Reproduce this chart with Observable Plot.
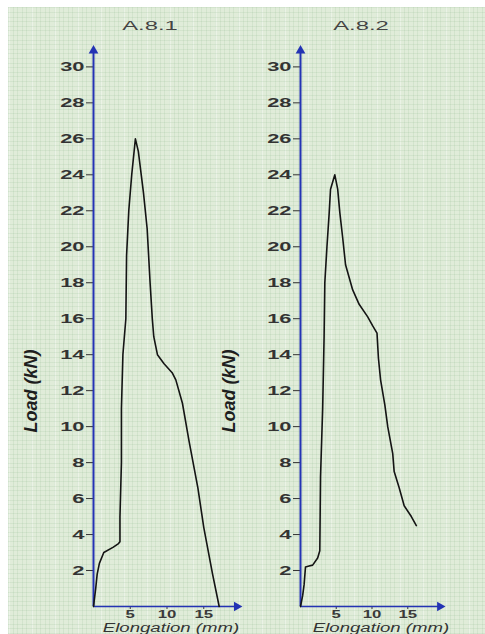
<!DOCTYPE html>
<html>
<head>
<meta charset="utf-8">
<script src="https://cdn.jsdelivr.net/npm/d3@7"></script>
<script src="https://cdn.jsdelivr.net/npm/@observablehq/plot@0.6"></script>
<style>
  html, body { margin: 0; padding: 0; background: #ffffff; }
  #chart { position: relative; width: 485px; height: 634px; overflow: hidden; }
  #paper {
    position: absolute; left: 8px; top: 7px; right: 0; bottom: 0;
    background-color: #e0ecd9;
    background-image:
      repeating-linear-gradient(0deg, rgba(120,170,120,0.13) 0 1px, transparent 1px 4.6px),
      repeating-linear-gradient(90deg, rgba(120,170,120,0.13) 0 1px, transparent 1px 4.6px),
      repeating-linear-gradient(90deg, rgba(255,255,255,0.35) 0 2px, transparent 2px 23px);
  }
  #chart svg { position: absolute; top: 0; }
</style>
</head>
<body>
<div id="chart"><div id="paper"></div></div>
<script>
// Load–elongation records for two specimens
const titles = ["A.8.1", "A.8.2"];

const elongA81 = [0, 0.3, 0.5, 0.8, 1.4, 2.7, 3.4, 3.6, 3.6, 3.8, 3.8, 4.0, 4.4, 4.5, 4.8, 5.2, 5.7,
  6.1, 6.8, 7.3, 7.7, 8.0, 8.2, 8.7, 9.6, 10.7, 11.2, 12.1, 13.0, 14.2, 15.0, 16.2, 17.1];
const loadA81 = [0, 1.0, 1.8, 2.4, 3.0, 3.3, 3.5, 3.6, 5.0, 8.0, 11.0, 14.0, 16.0, 19.5, 22.0, 24.0, 26.0,
  25.3, 23.0, 21.0, 18.0, 16.0, 15.0, 14.0, 13.5, 13.0, 12.6, 11.3, 9.2, 6.6, 4.4, 1.8, 0];

const elongA82 = [0, 0.3, 0.5, 0.7, 1.2, 1.7, 2.4, 2.7, 2.8, 3.1, 3.3, 3.4, 3.7, 4.0, 4.2, 4.8, 5.2,
  5.5, 5.9, 6.3, 7.3, 8.2, 9.4, 10.1, 10.7, 10.9, 11.2, 11.8, 12.2, 12.9, 13.1, 13.8, 14.5, 15.5, 16.2];
const loadA82 = [0, 0.6, 1.2, 2.2, 2.25, 2.3, 2.7, 3.1, 7.2, 11.0, 15.0, 18.0, 20.0, 21.8, 23.2, 24.0, 23.2,
  21.9, 20.5, 19.0, 17.6, 16.8, 16.1, 15.6, 15.2, 13.8, 12.6, 11.2, 10.0, 8.5, 7.5, 6.6, 5.6, 5.0, 4.5];

const xTicks = [5, 10, 15];
const yTicks = [2, 4, 6, 8, 10, 12, 14, 16, 18, 20, 22, 24, 26, 28, 30];
const xLabel = "Elongation (mm)";
const yLabel = "Load (kN)";

// axis extents (data units) for the arrowed axes
const xMax = 20, yMax = 31.3, xArrow = 19.5, yArrow = 30.9;

const blue = "#2433b4";
const font = "'Liberation Sans', Arial, sans-serif";

function panel({title, elong, load, left, width, marginLeft, marginRight, titleDx, yLabelDx, xLabelDx}) {
  const pts = elong.map((e, i) => ({e, l: load[i]}));
  const svg = Plot.plot({
    width, height: 634,
    marginLeft, marginRight, marginTop: 43, marginBottom: 28,
    x: {domain: [0, xMax]},
    y: {domain: [0, yMax]},
    style: {background: "transparent", fontFamily: font, overflow: "visible"},
    marks: [
      Plot.axisY({ticks: yTicks, tickSize: 7, tickPadding: 2, label: null,
        fontSize: 12.5, fontWeight: "bold", color: "#333"}),
      Plot.axisX({ticks: xTicks, tickSize: 3, tickPadding: 1, label: null,
        fontSize: 10.5, fontWeight: "bold", color: "#3a3a3a"}),
      Plot.ruleY([0], {x1: 0, x2: xArrow, stroke: blue, strokeWidth: 1.6}),
      Plot.ruleX([0], {y1: 0, y2: yArrow, stroke: blue, strokeWidth: 2}),
      Plot.dot([{x: 0, y: yArrow}], {x: "x", y: "y", symbol: "triangle", r: 3.6, fill: blue, stroke: null}),
      Plot.dot([{x: xArrow, y: 0}], {x: "x", y: "y", symbol: "triangle", r: 3.6, rotate: 90, fill: blue, stroke: null}),
      Plot.line(pts, {x: "e", y: "l", stroke: "#141414", strokeWidth: 1.6}),
      Plot.text([title], {frameAnchor: "top", dx: titleDx, dy: -18,
        fontSize: 12.5, fill: "#444", lineAnchor: "middle"}),
      Plot.text([yLabel], {frameAnchor: "left", textAnchor: "middle", rotate: -90, dx: yLabelDx, dy: 66,
        fontSize: 18, fontWeight: "bold", fontStyle: "italic", fill: "#1e1e1e", lineAnchor: "middle"}),
      Plot.text([xLabel], {frameAnchor: "bottom", dx: xLabelDx, dy: 22,
        fontSize: 12, fontStyle: "italic", fill: "#333", lineAnchor: "middle"})
    ]
  });
  svg.style.left = left + "px";
  return svg;
}

const chart = document.getElementById("chart");
const svgs = [
  panel({title: titles[0], elong: elongA81, load: loadA81, left: 0, width: 245,
    marginLeft: 93, marginRight: 5, titleDx: -17, yLabelDx: -62, xLabelDx: 4}),
  panel({title: titles[1], elong: elongA82, load: loadA82, left: 200, width: 285,
    marginLeft: 100, marginRight: 42, titleDx: -11, yLabelDx: -71, xLabelDx: 9})
];
svgs.forEach(s => chart.appendChild(s));

// the lettering on this chart is set wide; widen glyphs in place
const yTickText = new Set(yTicks.map(String));
const xTickText = new Set(xTicks.map(String));
function widenText(t, factor) {
  const len = t.getComputedTextLength();
  if (!(len > 0)) return;
  t.setAttribute("textLength", (len * factor).toFixed(1));
  t.setAttribute("lengthAdjust", "spacingAndGlyphs");
}
svgs.forEach(s => {
  s.querySelectorAll("text").forEach(t => {
    const s0 = t.textContent.trim();
    if (titles.includes(s0)) widenText(t, 1.9);
    else if (s0 === xLabel) widenText(t, 1.55);
    else if (t.getAttribute("font-size") === "12.5" || t.closest("g[font-size='12.5']")) {
      if (yTickText.has(s0)) widenText(t, 1.75);
    } else if (xTickText.has(s0)) widenText(t, 1.6);
  });
});
</script>
</body>
</html>
